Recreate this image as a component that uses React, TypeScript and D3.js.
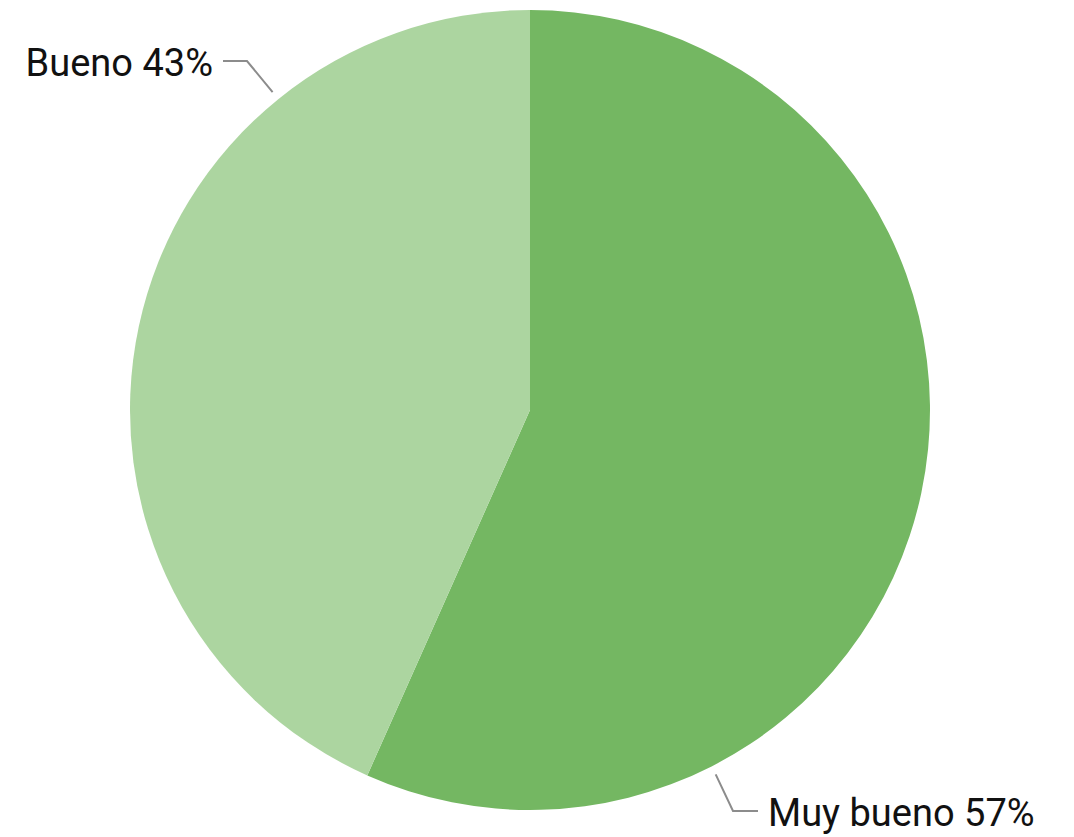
import React from 'react'
import * as d3 from 'd3'

// chart data (counts; labels show rounded shares)
const categories = ['Muy bueno', 'Bueno']
const counts = [17, 13]
const colors = ['#74b762', '#acd5a0']

const width = 1074
const height = 837
const cx = 530
const cy = 410
const radius = 400

// leader layout: angle on the rim (deg, clockwise from top), elbow and label anchor
const leaders = [
  { angle: 153, elbow: [733, 811], end: [758, 811], text: [768, 826], anchor: 'start' },
  { angle: 321, elbow: [247, 61], end: [223, 61], text: [213, 76], anchor: 'end' },
]

export default function App() {
  const pie = d3.pie<number>().sort(null).value(d => d)
  const arcs = pie(counts)
  const arc = d3.arc<d3.PieArcDatum<number>>().innerRadius(0).outerRadius(radius)
  const total = d3.sum(counts)

  return (
    <svg width={width} height={height} style={{ position: 'absolute', left: 0, top: 0 }}>
      <g transform={`translate(${cx},${cy})`}>
        {arcs.map((a, i) => (
          <path key={i} d={arc(a) || ''} fill={colors[i]} />
        ))}
      </g>
      {leaders.map((l, i) => {
        const rad = (l.angle * Math.PI) / 180
        const sx = cx + Math.sin(rad) * (radius + 9)
        const sy = cy - Math.cos(rad) * (radius + 9)
        return (
          <g key={i}>
            <polyline
              points={`${sx},${sy} ${l.elbow[0]},${l.elbow[1]} ${l.end[0]},${l.end[1]}`}
              fill="none"
              stroke="#8c8c8c"
              strokeWidth={2}
            />
            <text
              x={l.text[0]}
              y={l.text[1]}
              textAnchor={l.anchor as any}
              style={{ font: '400 38px Roboto', fill: '#111' }}
            >
              {`${categories[i]} ${Math.round((counts[i] / total) * 100)}%`}
            </text>
          </g>
        )
      })}
    </svg>
  )
}
